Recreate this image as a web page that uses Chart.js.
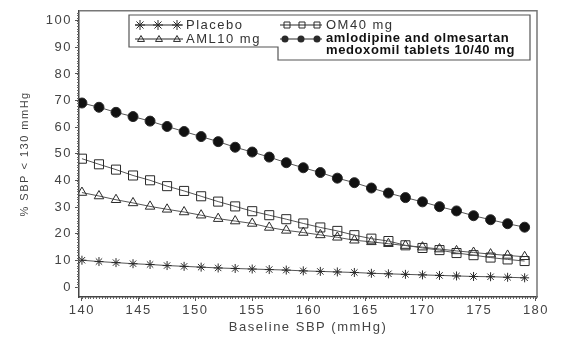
<!DOCTYPE html>
<html>
<head>
<meta charset="utf-8">
<script src="https://cdn.jsdelivr.net/npm/chart.js@4.4.1/dist/chart.umd.min.js"></script>
<style>
  html, body { margin: 0; padding: 0; background: #fff; }
</style>
</head>
<body>
<canvas id="sbpChart" width="580" height="363"></canvas>
<script>
// baseline SBP values where the markers sit
const sbp = [140, 141.5, 143, 144.5, 146, 147.5, 149, 150.5, 152, 153.5, 155, 156.5, 158, 159.5,
             161, 162.5, 164, 165.5, 167, 168.5, 170, 171.5, 173, 174.5, 176, 177.5, 179];

const placebo = [10.1, 9.6, 9.2, 8.8, 8.5, 8.1, 7.8, 7.5, 7.2, 7.0, 6.8, 6.6, 6.4, 6.1,
                 5.9, 5.7, 5.5, 5.2, 5.0, 4.8, 4.6, 4.4, 4.2, 4.0, 3.9, 3.7, 3.5];
const om40 = [48.2, 46.1, 44.1, 41.9, 40.1, 37.9, 36.1, 34.1, 32.1, 30.3, 28.5, 27.0, 25.5, 23.9,
              22.4, 21.1, 19.5, 18.2, 17.3, 15.7, 14.7, 13.9, 12.8, 12.0, 11.1, 10.4, 9.8];
const aml10 = [35.5, 34.2, 32.8, 31.6, 30.3, 29.2, 28.2, 27.0, 25.7, 24.8, 23.9, 22.4, 21.3, 20.5,
               19.6, 18.7, 17.6, 17.0, 16.3, 15.6, 15.0, 14.3, 13.6, 13.0, 12.4, 11.9, 11.4];
const combo = [69.1, 67.5, 65.6, 64.0, 62.3, 60.3, 58.4, 56.5, 54.6, 52.5, 50.7, 48.8, 46.7, 44.8,
               43.0, 40.9, 39.2, 37.2, 35.3, 33.6, 32.0, 30.2, 28.6, 26.8, 25.3, 23.8, 22.5];

const xTicks = [140, 145, 150, 155, 160, 165, 170, 175, 180];
const yTicks = [0, 10, 20, 30, 40, 50, 60, 70, 80, 90, 100];

const INK = '#2a2a2a';
const TEXT = '#444';
const SPACING = '1.5px';

function pts(values) {
  return sbp.map((x, i) => ({ x: x, y: values[i] }));
}

function series(label, values, style, radius, fill) {
  return {
    label: label,
    data: pts(values),
    borderColor: '#555',
    borderWidth: 1,
    pointStyle: style,
    pointRadius: radius,
    pointBorderColor: INK,
    pointBackgroundColor: fill,
    pointBorderWidth: 1,
    tension: 0
  };
}

// letter spacing for the wide axis lettering
const spacingPlugin = {
  id: 'spacing',
  beforeUpdate(chart) { chart.ctx.letterSpacing = SPACING; },
  beforeDraw(chart) { chart.ctx.letterSpacing = SPACING; }
};

// top and right sides of the frame, plus the small minor ticks
const framePlugin = {
  id: 'frame',
  afterDraw(chart) {
    const { ctx, chartArea: a, scales } = chart;
    ctx.save();
    ctx.strokeStyle = '#777';
    ctx.lineWidth = 1.5;
    ctx.beginPath();
    ctx.moveTo(a.left, a.top);
    ctx.lineTo(a.right, a.top);
    ctx.lineTo(a.right, a.bottom);
    ctx.stroke();

    ctx.strokeStyle = '#666';
    ctx.lineWidth = 1;
    ctx.beginPath();
    for (let v = 0; v <= 103; v += 1) {
      const y = Math.round(scales.y.getPixelForValue(v)) + 0.5;
      ctx.moveTo(a.left - 2, y);
      ctx.lineTo(a.left, y);
    }
    for (let v = 140; v <= 180; v += 0.25) {
      const x = Math.round(scales.x.getPixelForValue(v)) + 0.5;
      ctx.moveTo(x, a.bottom);
      ctx.lineTo(x, a.bottom + 2);
    }
    ctx.stroke();
    ctx.restore();
  }
};

function marker(ctx, style, x, y, r) {
  ctx.beginPath();
  if (style === 'star') {
    for (let k = 0; k < 4; k++) {
      const ang = k * Math.PI / 4;
      ctx.moveTo(x - r * Math.cos(ang), y - r * Math.sin(ang));
      ctx.lineTo(x + r * Math.cos(ang), y + r * Math.sin(ang));
    }
    ctx.stroke();
  } else if (style === 'rect') {
    ctx.rect(x - r, y - r, 2 * r, 2 * r);
    ctx.stroke();
  } else if (style === 'triangle') {
    ctx.moveTo(x, y - r);
    ctx.lineTo(x + r, y + r * 0.7);
    ctx.lineTo(x - r, y + r * 0.7);
    ctx.closePath();
    ctx.stroke();
  } else {
    ctx.arc(x, y, r, 0, Math.PI * 2);
    ctx.fill();
  }
}

// boxed legend in two columns, as in the figure
const legendPlugin = {
  id: 'boxLegend',
  afterDatasetsDraw(chart) {
    const ctx = chart.ctx;
    ctx.save();
    ctx.fillStyle = '#fff';
    ctx.strokeStyle = '#555';
    ctx.lineWidth = 1.2;
    ctx.beginPath();
    ctx.moveTo(129, 15);
    ctx.lineTo(530, 15);
    ctx.lineTo(530, 60);
    ctx.lineTo(278, 60);
    ctx.lineTo(278, 47);
    ctx.lineTo(129, 47);
    ctx.closePath();
    ctx.fill();
    ctx.stroke();

    const rows = [
      { style: 'star', x0: 135, x1: 183, y: 25, xs: [140, 158, 177], r: 5, text: 'Placebo', tx: 186 },
      { style: 'triangle', x0: 135, x1: 183, y: 39, xs: [141, 159, 177], r: 3.5, text: 'AML10 mg', tx: 186 },
      { style: 'rect', x0: 280, x1: 322, y: 25, xs: [287, 302, 317], r: 3, text: 'OM40 mg', tx: 326 },
      { style: 'circle', x0: 280, x1: 322, y: 39, xs: [285, 301, 317], r: 3.5, text: null, tx: 326 }
    ];
    ctx.strokeStyle = INK;
    ctx.fillStyle = INK;
    ctx.lineWidth = 1;
    rows.forEach(row => {
      ctx.beginPath();
      ctx.moveTo(row.x0, row.y);
      ctx.lineTo(row.x1, row.y);
      ctx.stroke();
      row.xs.forEach(x => marker(ctx, row.style, x, row.y, row.r));
    });

    ctx.textBaseline = 'middle';
    ctx.textAlign = 'left';
    ctx.fillStyle = '#333';
    ctx.letterSpacing = SPACING;
    ctx.font = '13px "Liberation Sans", Arial, sans-serif';
    ctx.fillText('Placebo', 186, 25);
    ctx.fillText('AML10 mg', 186, 39);
    ctx.fillText('OM40 mg', 326, 25);
    ctx.fillStyle = '#111';
    ctx.letterSpacing = '0.6px';
    ctx.font = 'bold 13px "Liberation Sans", Arial, sans-serif';
    ctx.fillText('amlodipine and olmesartan', 326, 38);
    ctx.fillText('medoxomil tablets 10/40 mg', 326, 50);
    ctx.restore();
  }
};

new Chart(document.getElementById('sbpChart'), {
  type: 'line',
  data: {
    datasets: [
      series('Placebo', placebo, 'star', 4.5, 'rgba(0,0,0,0)'),
      series('OM40 mg', om40, 'rect', 6.4, 'rgba(0,0,0,0)'),
      series('AML10 mg', aml10, 'triangle', 5.5, 'rgba(0,0,0,0)'),
      series('amlodipine and olmesartan medoxomil tablets 10/40 mg', combo, 'circle', 5, '#111')
    ]
  },
  options: {
    responsive: false,
    animation: false,
    layout: { padding: { top: 10, right: 43, left: 0, bottom: 0 } },
    plugins: {
      legend: { display: false },
      tooltip: { enabled: false }
    },
    scales: {
      x: {
        type: 'linear',
        min: 139.74,
        max: 180.09,
        afterBuildTicks: s => { s.ticks = xTicks.map(v => ({ value: v })); },
        afterFit: s => { s.height = 66; },
        grid: { drawOnChartArea: false, drawTicks: true, tickLength: 4, tickColor: '#555' },
        border: { display: true, color: '#444', width: 1.5 },
        ticks: {
          color: TEXT,
          padding: 2,
          maxRotation: 0,
          font: { family: '"Liberation Sans", Arial, sans-serif', size: 13 }
        },
        title: {
          display: true,
          text: 'Baseline SBP (mmHg)',
          color: TEXT,
          padding: { top: 0, bottom: 28 },
          font: { family: '"Liberation Sans", Arial, sans-serif', size: 13 }
        }
      },
      y: {
        min: -3.7,
        max: 103.7,
        afterBuildTicks: s => { s.ticks = yTicks.map(v => ({ value: v })); },
        afterFit: s => { s.width = 79; },
        grid: { drawOnChartArea: false, drawTicks: true, tickLength: 4, tickColor: '#555' },
        border: { display: true, color: '#444', width: 1.5 },
        ticks: {
          color: TEXT,
          padding: 3,
          font: { family: '"Liberation Sans", Arial, sans-serif', size: 13 }
        },
        title: {
          display: true,
          text: '% SBP < 130 mmHg',
          color: TEXT,
          padding: { top: 18, bottom: 0 },
          font: { family: '"Liberation Sans", Arial, sans-serif', size: 11 }
        }
      }
    }
  },
  plugins: [spacingPlugin, framePlugin, legendPlugin]
});
</script>
</body>
</html>
